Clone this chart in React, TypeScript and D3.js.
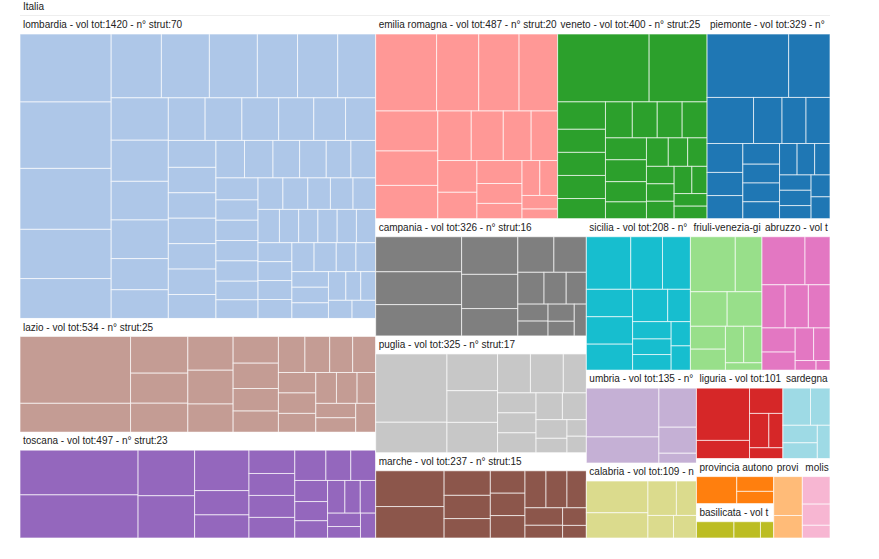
import React, { useMemo } from "react";
import * as d3 from "d3";

// Regions in data order (colour order of category20)
const regionNames = [
  "piemonte",
  "lombardia",
  "provincia autonoma bolzano",
  "provincia autonoma trento",
  "veneto",
  "friuli-venezia-giulia",
  "liguria",
  "emilia romagna",
  "toscana",
  "umbria",
  "marche",
  "lazio",
  "abruzzo",
  "molise",
  "campania",
  "puglia",
  "basilicata",
  "calabria",
  "sicilia",
  "sardegna",
];

// volume of every structure, per region
const piemonte = [75, 38, 31, 19, 16, 16, 15, 12, 12, 11, 10, 10, 9, 8, 8, 7, 7, 7, 6, 6, 6];
const lombardia = [
  87, 85, 78, 63, 51, 45, 43, 43, 36, 36, 34, 34, 33, 31, 31, 25, 23, 22, 22, 22, 21, 19, 18, 18,
  17, 17, 17, 17, 17, 16, 15, 15, 14, 14, 13, 13, 13, 12, 12, 12, 12, 11, 11, 11, 11, 10, 10, 10,
  10, 9, 9, 9, 9, 9, 9, 9, 9, 9, 9, 9, 8, 8, 8, 8, 8, 7, 6, 6, 6, 6,
];
const bolzano = [24, 12, 10];
const trento = [19, 11];
const veneto = [90, 57, 19, 16, 16, 16, 14, 14, 13, 13, 13, 13, 13, 12, 10, 9, 8, 8, 7, 7, 7, 7, 6, 6, 6];
const friuli = [37, 22, 19, 18, 12, 11, 10, 10, 4];
const liguria = [46, 16, 14, 11, 8, 6];
const emilia = [68, 47, 45, 43, 36, 31, 30, 24, 23, 20, 19, 18, 15, 15, 13, 10, 9, 9, 7, 5];
const toscana = [84, 81, 41, 38, 35, 21, 20, 17, 16, 16, 15, 15, 12, 12, 11, 10, 9, 9, 8, 8, 7, 6, 6];
const umbria = [58, 31, 24, 16, 6];
const marche = [41, 36, 19, 18, 15, 13, 13, 13, 13, 13, 12, 11, 8, 7, 5];
const lazio = [116, 50, 33, 27, 26, 24, 24, 20, 19, 18, 16, 15, 15, 14, 13, 13, 12, 12, 11, 10, 10, 9, 9, 9, 9];
const abruzzo = [31, 18, 15, 15, 14, 12, 9, 9, 8, 3, 2];
const molise = [13, 10, 6];
const campania = [47, 44, 42, 33, 30, 24, 20, 18, 13, 11, 10, 8, 7, 7, 6, 6];
const puglia = [76, 34, 29, 25, 24, 20, 20, 14, 12, 12, 12, 11, 10, 9, 7, 5, 5];
const basilicata = [17, 12, 6];
const calabria = [34, 27, 17, 12, 10, 9];
const sicilia = [35, 25, 22, 19, 19, 18, 17, 11, 10, 9, 9, 7, 7];
const sardegna = [17, 12, 10, 9, 7];

const volumes = [
  piemonte, lombardia, bolzano, trento, veneto, friuli, liguria, emilia, toscana, umbria,
  marche, lazio, abruzzo, molise, campania, puglia, basilicata, calabria, sicilia, sardegna,
];

const category20 = [
  "#1f77b4", "#aec7e8", "#ff7f0e", "#ffbb78", "#2ca02c", "#98df8a", "#d62728", "#ff9896",
  "#9467bd", "#c5b0d5", "#8c564b", "#c49c94", "#e377c2", "#f7b6d2", "#7f7f7f", "#c7c7c7",
  "#bcbd22", "#dbdb8d", "#17becf", "#9edae5",
];

const W = 810;
const H = 540;
const OX = 20;
const OY = -2;
const HEADER = 18;
const K = 1.12;
const FONT = "'Liberation Sans', Arial, sans-serif";

let measureCtx: CanvasRenderingContext2D | null = null;
function fitText(s: string, maxW: number): string {
  if (!measureCtx) {
    const c = document.createElement("canvas");
    measureCtx = c.getContext("2d");
  }
  if (!measureCtx) return s;
  measureCtx.font = `10px ${FONT}`;
  if (measureCtx.measureText(s).width <= maxW) return s;
  let t = s;
  while (t.length > 0 && measureCtx.measureText(t).width > maxW) t = t.slice(0, -1);
  return t;
}

export default function App() {
  const root = useMemo(() => {
    const data = {
      name: "Italia",
      children: regionNames.map((n, i) => ({
        name: n,
        idx: i,
        children: volumes[i].map((v, j) => ({ name: n + " " + (j + 1), value: v })),
      })),
    };
    const h = d3
      .hierarchy<any>(data)
      .sum((d: any) => d.value || 0)
      .sort((a: any, b: any) => b.value - a.value);
    const tile = (node: any, x0: number, y0: number, x1: number, y1: number) => {
      d3.treemapSquarify(node, x0, y0 * K, x1, y1 * K);
      for (const c of node.children) {
        c.y0 /= K;
        c.y1 /= K;
      }
    };
    return d3
      .treemap<any>()
      .size([W, H])
      .tile(tile as any)
      .paddingTop(HEADER)(h);
  }, []);

  const color = d3.scaleOrdinal<number, string>().domain(d3.range(20)).range(category20);
  const regions = root.children || [];

  return (
    <svg
      width={879}
      height={559}
      style={{ position: "absolute", left: 0, top: 0, background: "#fff" }}
    >
      <g transform={`translate(${OX},${OY})`}>
        <rect x={root.x0} y={root.y0} width={root.x1 - root.x0} height={root.y1 - root.y0} fill="#fff" />
        <line x1={root.x0} x2={root.x1} y1={17.5} y2={17.5} stroke="#eee" />
        <text x={root.x0 + 3} y={root.y0 + 12.3} fontFamily={FONT} fontSize={10} fill="#222">
          {root.data.name}
        </text>
        {regions.map((r: any) => {
          const fill = color(r.data.idx);
          const n = (r.children || []).length;
          const label = `${r.data.name} - vol tot:${r.value} - n° strut:${n}`;
          return (
            <g key={r.data.name}>
              <rect x={r.x0} y={r.y0} width={r.x1 - r.x0} height={HEADER} fill="#fff" />
              {(r.children || []).map((c: any, j: number) => (
                <rect
                  key={j}
                  x={c.x0}
                  y={c.y0}
                  width={c.x1 - c.x0}
                  height={c.y1 - c.y0}
                  fill={fill}
                  stroke="#fff"
                  strokeOpacity={0.65}
                  strokeWidth={1}
                />
              ))}
              <text x={r.x0 + 3} y={r.y0 + 12.3} fontFamily={FONT} fontSize={10} fill="#222">
                {fitText(label, r.x1 - r.x0 - 3)}
              </text>
            </g>
          );
        })}
      </g>
    </svg>
  );
}
